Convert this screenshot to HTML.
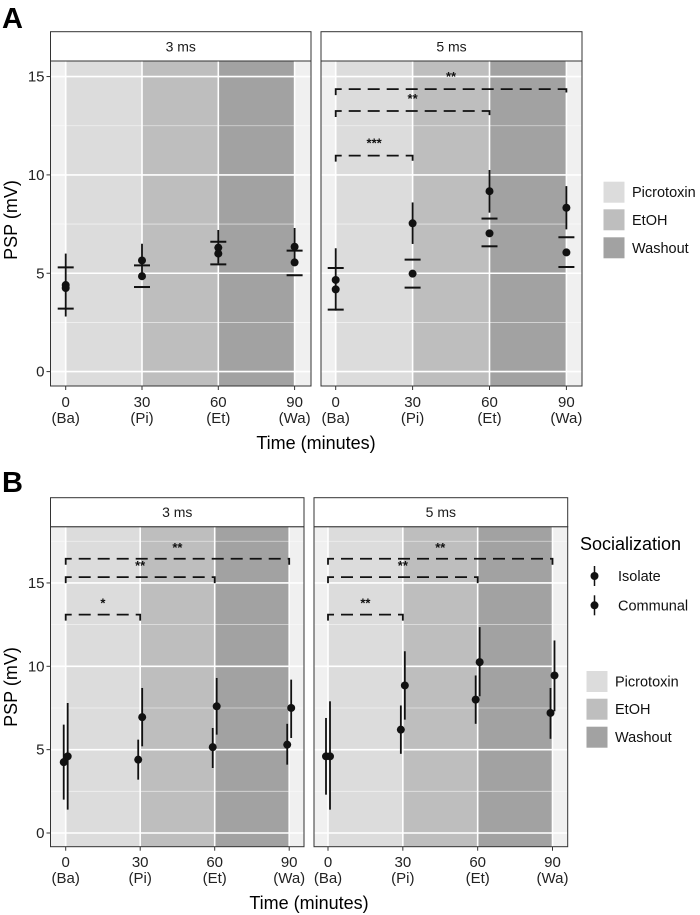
<!DOCTYPE html>
<html><head><meta charset="utf-8"><style>
body{margin:0;background:#fff;}
svg{display:block;font-family:"Liberation Sans",Arial,sans-serif;}
</style></head><body>
<svg id="chart" width="700" height="915" viewBox="0 0 700 915"></svg>
<script>
// ---- Data ----
const timeTicks = [0, 30, 60, 90];
const timeLabels = ["(Ba)", "(Pi)", "(Et)", "(Wa)"];
const yTicks = [0, 5, 10, 15];
const panelTitles = ["3 ms", "5 ms"];
const phaseNames = ["Picrotoxin", "EtOH", "Washout"];
const phaseStart = [0, 30, 60];
const phaseEnd = [30, 60, 90];
// Panel A (per duration): error line range, crossbar caps, two dots
const aLineLo3 = [2.8, 4.7, 5.5, 5.6];
const aLineHi3 = [6.0, 6.5, 7.2, 7.3];
const aCapLo3 = [3.2, 4.3, 5.45, 4.9];
const aCapHi3 = [5.3, 5.4, 6.6, 6.15];
const aDotA3 = [4.4, 5.65, 6.3, 6.35];
const aDotB3 = [4.25, 4.85, 6.0, 5.55];
const aLineLo5 = [3.1, 6.49, 8.08, 7.23];
const aLineHi5 = [6.27, 8.6, 10.25, 9.43];
const aCapLo5 = [3.15, 4.27, 6.37, 5.32];
const aCapHi5 = [5.27, 5.69, 7.78, 6.83];
const aDotA5 = [4.66, 7.54, 9.17, 8.33];
const aDotB5 = [4.18, 4.98, 7.03, 6.06];
const aBracketEnd = [30, 60, 90];
const aBracketY = [10.98, 13.25, 14.36];
const aBracketLabel = ["***", "**", "**"];
// Panel B
const bIsoMean3 = [4.25, 4.4, 5.15, 5.3];
const bIsoLo3 = [2.0, 3.2, 3.9, 4.1];
const bIsoHi3 = [6.5, 5.6, 6.3, 6.55];
const bComMean3 = [4.6, 6.95, 7.6, 7.5];
const bComLo3 = [1.4, 5.2, 5.9, 5.7];
const bComHi3 = [7.8, 8.7, 9.3, 9.2];
const bIsoMean5 = [4.6, 6.2, 8.0, 7.2];
const bIsoLo5 = [2.3, 4.75, 6.55, 5.65];
const bIsoHi5 = [6.9, 7.65, 9.45, 8.7];
const bComMean5 = [4.6, 8.85, 10.25, 9.45];
const bComLo5 = [1.4, 6.8, 8.2, 7.3];
const bComHi5 = [7.9, 10.9, 12.35, 11.55];
const bBracketEnd = [30, 60, 90];
const bBracketY = [13.1, 15.35, 16.45];
const bBracketLabel3 = ["*", "**", "**"];
const bBracketLabel5 = ["**", "**", "**"];

const NS = "http://www.w3.org/2000/svg";
const svg = document.getElementById("chart");
const phaseColors = ["#dcdcdc", "#bebebe", "#a2a2a2"];
function mk(tag, attrs, parent, text) {
  const e = document.createElementNS(NS, tag);
  for (const k in attrs) e.setAttribute(k, attrs[k]);
  if (text !== undefined) e.textContent = text;
  (parent || svg).appendChild(e);
  return e;
}

function drawPanel(p) {
  const g = mk("g", {});
  
  
  const xs = v => p.x0 + (p.x90 - p.x0) * v / 90;
  const ys = v => p.y0 - v * p.yPer;
  mk("rect", {x: p.left, y: p.plotTop, width: p.right - p.left, height: p.plotBottom - p.plotTop, fill: "#f0f0f0"}, g);
  for (let i = 0; i < phaseStart.length; i++) {
    const r = mk("rect", {x: xs(phaseStart[i]), y: p.plotTop, width: xs(phaseEnd[i]) - xs(phaseStart[i]), height: p.plotBottom - p.plotTop, fill: phaseColors[i]}, g);
    
    
  }
  for (let v = 0; v <= p.ymax; v += 2.5) {
    const major = v % 5 === 0;
    mk("line", {x1: p.left, x2: p.right, y1: ys(v), y2: ys(v), stroke: "#fff", "stroke-width": major ? 1.6 : 0.8, "stroke-opacity": major ? 1 : 0.6}, g);
  }
  timeTicks.forEach(t => mk("line", {x1: xs(t), x2: xs(t), y1: p.plotTop, y2: p.plotBottom, stroke: "#fff", "stroke-width": 1.6}, g));
  mk("rect", {x: p.left, y: p.plotTop, width: p.right - p.left, height: p.plotBottom - p.plotTop, fill: "none", stroke: "#333", "stroke-width": 1}, g);
  const st = mk("rect", {x: p.left, y: p.stripTop, width: p.right - p.left, height: p.plotTop - p.stripTop, fill: "#fff", stroke: "#333", "stroke-width": 1}, g);
  
  
  const stt = mk("text", {x: (p.left + p.right) / 2, y: (p.stripTop + p.plotTop) / 2 + 5, "text-anchor": "middle", "font-size": 14, fill: "#1a1a1a"}, g, p.title);
  
  
  timeTicks.forEach((t, i) => {
    mk("line", {x1: xs(t), x2: xs(t), y1: p.plotBottom, y2: p.plotBottom + 4, stroke: "#333"}, g);
    const a = mk("text", {x: xs(t), y: p.tick1, "text-anchor": "middle", "font-size": 15, fill: "#222"}, g, String(t));
    
    
    const b = mk("text", {x: xs(t), y: p.tick2, "text-anchor": "middle", "font-size": 15, fill: "#222"}, g, timeLabels[i]);
    
    
  });
  if (p.yaxis) {
    yTicks.forEach(v => {
      mk("line", {x1: p.left - 4, x2: p.left, y1: ys(v), y2: ys(v), stroke: "#333"}, g);
      const t = mk("text", {x: p.left - 6, y: ys(v) + 5, "text-anchor": "end", "font-size": 15, fill: "#222"}, g, String(v));
      
      
    });
  }
  return {g, xs, ys};
}

function bracket(g, xs, ys, x1, x2, yv, label, off) {
  const y = ys(yv), drop = 6;
  const pth = mk("path", {d: `M${xs(x1)},${y + drop}V${y}H${xs(x2)}V${y + drop}`, fill: "none", stroke: "#111", "stroke-width": 1.8, "stroke-dasharray": "12,7"}, g);
  
  
  const t = mk("text", {x: (xs(x1) + xs(x2)) / 2, y: y - off, "text-anchor": "middle", "font-size": 13, "font-weight": "bold", fill: "#111"}, g, label);
  
  
}

// ---------- Panel A ----------
mk("text", {x: 2, y: 28, "font-size": 29, "font-weight": "bold", fill: "#000"}, svg, "A");
const aDefs = [
  {left: 50.5, right: 311, x0: 65.7, x90: 294.6, lo: aLineLo3, hi: aLineHi3, cl: aCapLo3, ch: aCapHi3, da: aDotA3, db: aDotB3, yaxis: true},
  {left: 321, right: 582, x0: 335.7, x90: 566.4, lo: aLineLo5, hi: aLineHi5, cl: aCapLo5, ch: aCapHi5, da: aDotA5, db: aDotB5, yaxis: false}
];
aDefs.forEach((d, k) => {
  const P = drawPanel({name: "panel-a-" + (k ? "5ms" : "3ms"), title: panelTitles[k], left: d.left, right: d.right, stripTop: 31.7, plotTop: 61, plotBottom: 386, x0: d.x0, x90: d.x90, y0: 371.6, yPer: 19.67, ymax: 15.7, yaxis: d.yaxis, tick1: 407, tick2: 423});
  timeTicks.forEach((t, i) => {
    const x = P.xs(t);
    const el = mk("line", {x1: x, x2: x, y1: P.ys(d.lo[i]), y2: P.ys(d.hi[i]), stroke: "#111", "stroke-width": 1.8}, P.g);
    
    
    [d.cl[i], d.ch[i]].forEach(v => {
      const c = mk("line", {x1: x - 8, x2: x + 8, y1: P.ys(v), y2: P.ys(v), stroke: "#111", "stroke-width": 2}, P.g);
      
      
    });
    [d.da[i], d.db[i]].forEach(v => {
      const c = mk("circle", {cx: x, cy: P.ys(v), r: 4, fill: "#111"}, P.g);
      
      
    });
  });
  if (k === 1) aBracketEnd.forEach((e, i) => bracket(P.g, P.xs, P.ys, 0, e, aBracketY[i], aBracketLabel[i], 8));
});
mk("text", {x: 316, y: 449, "text-anchor": "middle", "font-size": 18, fill: "#000"}, svg, "Time (minutes)");
mk("text", {x: 0, y: 0, transform: "translate(17,220) rotate(-90)", "text-anchor": "middle", "font-size": 18, fill: "#000"}, svg, "PSP (mV)");
function fillLegend(x, tx, ys, h) {
  phaseNames.forEach((n, i) => {
    const r = mk("rect", {x: x, y: ys[i], width: 21, height: h, fill: phaseColors[i]});
    
    
    const t = mk("text", {x: tx, y: ys[i] + h / 2 + 5, "font-size": 14.5, fill: "#111"}, svg, n);
    
    
  });
}
fillLegend(603.5, 632, [181.7, 209.3, 237.3], 21);

// ---------- Panel B ----------
mk("text", {x: 2, y: 492, "font-size": 29, "font-weight": "bold", fill: "#000"}, svg, "B");
const bDefs = [
  {left: 50.5, right: 304, x0: 65.7, x90: 289.2, im: bIsoMean3, il: bIsoLo3, ih: bIsoHi3, cm: bComMean3, cl: bComLo3, ch: bComHi3, lab: bBracketLabel3, yaxis: true},
  {left: 314, right: 567.7, x0: 328, x90: 552.5, im: bIsoMean5, il: bIsoLo5, ih: bIsoHi5, cm: bComMean5, cl: bComLo5, ch: bComHi5, lab: bBracketLabel5, yaxis: false}
];
bDefs.forEach((d, k) => {
  const P = drawPanel({name: "panel-b-" + (k ? "5ms" : "3ms"), title: panelTitles[k], left: d.left, right: d.right, stripTop: 497.7, plotTop: 526.7, plotBottom: 846.7, x0: d.x0, x90: d.x90, y0: 833, yPer: 16.67, ymax: 18.5, yaxis: d.yaxis, tick1: 867, tick2: 883});
  timeTicks.forEach((t, i) => {
    [[t - 0.8, d.im[i], d.il[i], d.ih[i], "isolate"], [t + 0.8, d.cm[i], d.cl[i], d.ch[i], "communal"]].forEach(s => {
      const x = P.xs(s[0]);
      const l = mk("line", {x1: x, x2: x, y1: P.ys(s[2]), y2: P.ys(s[3]), stroke: "#111", "stroke-width": 1.8}, P.g);
      
      
      const c = mk("circle", {cx: x, cy: P.ys(s[1]), r: 4, fill: "#111"}, P.g);
      
      
    });
  });
  bBracketEnd.forEach((e, i) => bracket(P.g, P.xs, P.ys, 0, e, bBracketY[i], d.lab[i], 7));
});
mk("text", {x: 309, y: 909, "text-anchor": "middle", "font-size": 18, fill: "#000"}, svg, "Time (minutes)");
mk("text", {x: 0, y: 0, transform: "translate(17,687) rotate(-90)", "text-anchor": "middle", "font-size": 18, fill: "#000"}, svg, "PSP (mV)");
mk("text", {x: 580, y: 550, "font-size": 18, fill: "#000"}, svg, "Socialization");
[["Isolate", 576], ["Communal", 605.3]].forEach(s => {
  const l = mk("line", {x1: 594.5, x2: 594.5, y1: s[1] - 10, y2: s[1] + 10, stroke: "#111", "stroke-width": 1.5});
  
  
  mk("circle", {cx: 594.5, cy: s[1], r: 4, fill: "#111"});
  const t = mk("text", {x: 618, y: s[1] + 5, "font-size": 14.5, fill: "#111"}, svg, s[0]);
  
  
});
fillLegend(586.5, 615, [671, 698.7, 726.7], 21);
</script>
</body></html>
